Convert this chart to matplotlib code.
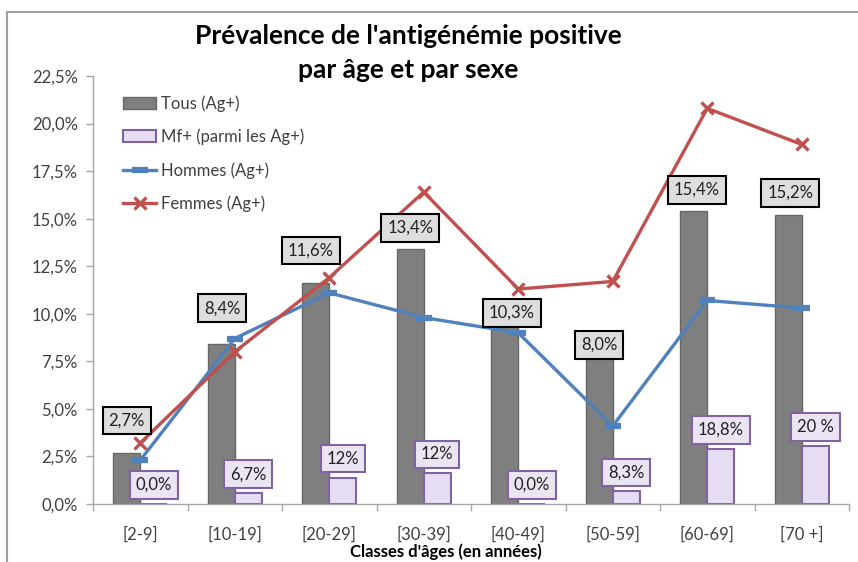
import numpy as np
import matplotlib.pyplot as plt
from matplotlib.patches import Rectangle
from matplotlib.lines import Line2D

plt.rcParams['font.family'] = ['Lato', 'DejaVu Sans']

# --- Données ---
classes = ['[2-9]', '[10-19]', '[20-29]', '[30-39]', '[40-49]', '[50-59]', '[60-69]', '[70 +]']
tous = [2.7, 8.4, 11.6, 13.4, 10.3, 8.0, 15.4, 15.2]           # % Ag+ toutes personnes
mf_parmi = [0.0, 6.7, 12.0, 12.0, 0.0, 8.3, 18.8, 20.0]        # % Mf+ parmi les Ag+
mf_textes = ['0,0%', '6,7%', '12%', '12%', '0,0%', '8,3%', '18,8%', '20 %']
hommes = [2.3, 8.7, 11.1, 9.8, 9.0, 4.1, 10.7, 10.3]
femmes = [3.2, 8.0, 11.9, 16.4, 11.3, 11.7, 20.8, 18.9]

# Barre Mf+ : part des Ag+ qui sont Mf+ (en % de la population)
mf_barres = [t * m / 100 for t, m in zip(tous, mf_parmi)]

# décalages des étiquettes "Tous" (pixels), posées à la main
dx_tous = [0, 1, -5, 0, 7, 0, 3, 2]
dy_tous = [32, 36, 33, 21, -5, 7, 21, 22]

GRIS = '#7f7f7f'
GRIS_BORD = '#666666'
VIOLET = '#e6dcf3'
VIOLET_BORD = '#8064a2'
BLEU = '#4f81bd'
ROUGE = '#c0504d'
AXE = '#a6a6a6'
TEXTE = '#404040'

W, H = 858, 562
fig = plt.figure(figsize=(W / 100, H / 100), dpi=100)
ax = fig.add_axes([93 / W, (H - 504) / H, (849 - 93) / W, (504 - 76) / H])

# cadre du graphique
fig.patches.append(Rectangle((7 / W, -0.1), 1.0, (H - 12) / H + 0.1,
                             transform=fig.transFigure, fill=False,
                             edgecolor='#a0a0a0', linewidth=1.5))

x = np.arange(len(classes))
bw = 0.286

ax.bar(x - bw / 2, tous, width=bw, color=GRIS, edgecolor=GRIS_BORD, linewidth=1.0, zorder=2)
ax.bar(x + bw / 2, mf_barres, width=bw, color=VIOLET, edgecolor=VIOLET_BORD, linewidth=1.5, zorder=2)

ax.plot(x, hommes, color=BLEU, linewidth=2.4, marker='_', markersize=11,
        markeredgewidth=4.5, zorder=4)
ax.plot(x, femmes, color=ROUGE, linewidth=2.4, marker='x', markersize=9,
        markeredgewidth=2.4, zorder=4)

# étiquettes des barres "Tous"
for i, v in enumerate(tous):
    ax.annotate(f'{v:.1f}%'.replace('.', ','), xy=(x[i] - bw / 2, v),
                xytext=(dx_tous[i] * 0.72, dy_tous[i] * 0.72), textcoords='offset points',
                ha='center', va='center', fontsize=12, color='#202020', zorder=6,
                bbox=dict(boxstyle='square,pad=0.35', facecolor='#dedede',
                          edgecolor='black', linewidth=1.5))

# étiquettes des barres Mf+
for i, v in enumerate(mf_barres):
    ax.annotate(mf_textes[i], xy=(x[i] + bw / 2, v),
                xytext=(0, 19 * 0.72), textcoords='offset points',
                ha='center', va='center', fontsize=12, color='#202020', zorder=6,
                bbox=dict(boxstyle='square,pad=0.35', facecolor='#ebe5f3',
                          edgecolor=VIOLET_BORD, linewidth=1.5))

ax.set_xlim(-0.5, len(classes) - 0.5)
ax.set_ylim(0, 22.5)
ax.set_yticks(np.arange(0, 22.6, 2.5))
ax.set_yticklabels([f'{v:.1f}%'.replace('.', ',') for v in np.arange(0, 22.6, 2.5)])
ax.set_xticks(x)
ax.set_xticklabels(classes)
ax.set_xticks(np.arange(-0.5, len(classes)), minor=True)
ax.tick_params(axis='x', which='major', length=0, pad=16, labelsize=12, labelcolor=TEXTE)
ax.tick_params(axis='x', which='minor', length=5, color=AXE, width=1)
ax.tick_params(axis='y', length=5, color=AXE, width=1, pad=6, labelsize=12, labelcolor=TEXTE)

for s in ['top', 'right']:
    ax.spines[s].set_visible(False)
for s in ['left', 'bottom']:
    ax.spines[s].set_color(AXE)
    ax.spines[s].set_linewidth(1)

# légende
poignees = [
    Rectangle((0, 0), 1, 1, facecolor=GRIS, edgecolor=GRIS_BORD),
    Rectangle((0, 0), 1, 1, facecolor=VIOLET, edgecolor=VIOLET_BORD, linewidth=1.5),
    Line2D([], [], color=BLEU, linewidth=2.4, marker='_', markersize=11, markeredgewidth=4.5),
    Line2D([], [], color=ROUGE, linewidth=2.4, marker='x', markersize=9, markeredgewidth=2.4),
]
noms = ['Tous (Ag+)', 'Mf+ (parmi les Ag+)', 'Hommes (Ag+)', 'Femmes (Ag+)']
fig.legend(poignees, noms, loc='upper left', bbox_to_anchor=(123 / W, (H - 95) / H),
           frameon=False, fontsize=12, labelspacing=1.02, handlelength=2.0,
           handletextpad=0.3, borderpad=0, borderaxespad=0, labelcolor=TEXTE)

fig.text(408 / W, (H - 53) / H, "Prévalence de l'antigénémie positive\npar âge et par sexe",
         ha='center', va='center', fontsize=19, fontweight='bold', linespacing=1.45)
fig.text(446 / W, 1.5 / H, "Classes d'âges (en années)", ha='center', va='bottom',
         fontsize=12, fontweight='bold')

fig.savefig('out.png', dpi=100)
